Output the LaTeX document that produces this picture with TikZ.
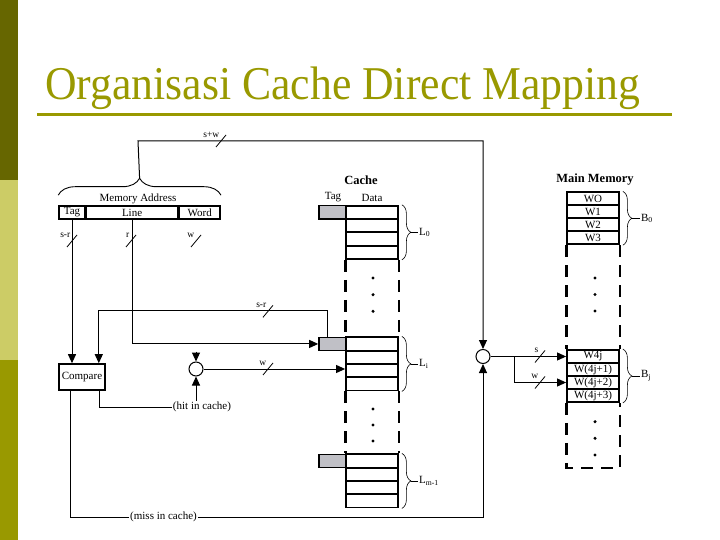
\documentclass[tikz,border=0pt]{standalone}
\usepackage{fontspec}
\setmainfont{Liberation Serif}
\usetikzlibrary{arrows.meta, positioning, calc, decorations.pathreplacing}

\definecolor{barDark}{RGB}{102,102,0}
\definecolor{barLight}{RGB}{204,204,102}
\definecolor{barMid}{RGB}{153,153,0}
\definecolor{tagGray}{RGB}{192,192,198}

\begin{document}
\begin{tikzpicture}[
    x=1pt, y=-1pt,
    >={Triangle[length=9pt,width=8pt]},
    font=\fontsize{11}{12}\selectfont,
    wire/.style = {line width=1pt},
    bus/.style = {line width=0.8pt},
    buslbl/.style = {font=\fontsize{9.5}{10}\selectfont, inner sep=0.5pt, anchor=south east},
    field/.style = {draw, line width=1.6pt, minimum height=13pt, inner sep=0pt},
    crow/.style = {draw, line width=1.8pt, minimum width=52pt, minimum height=13.3pt, inner sep=0pt},
    ctag/.style = {draw, line width=1.6pt, fill=tagGray, minimum width=27pt, minimum height=13.3pt, inner sep=0pt},
    mrow/.style = {draw, line width=1.8pt, minimum width=52pt, minimum height=13pt, inner sep=0pt, font=\fontsize{11}{12}\selectfont},
    dashside/.style = {line width=2.8pt, dash pattern=on 12pt off 8pt},
    gate/.style = {draw, circle, line width=1pt, minimum size=14pt, inner sep=0pt},
    cbrace/.style = {decorate, decoration={brace, amplitude=9pt}, line width=0.6pt},
    headlbl/.style = {font=\fontsize{12.5}{14}\selectfont\bfseries},
    flowlbl/.style = {inner sep=1pt},
]
\useasboundingbox (0,0) rectangle (720,540);

% side bar
\fill[barDark] (0,0) rectangle (18,180);
\fill[barLight] (0,180) rectangle (18,360);
\fill[barMid] (0,360) rectangle (18,540);

% title
\node[anchor=base west, inner sep=0pt, text=barMid, font=\fontsize{47}{50}\selectfont, xscale=0.93]
    (title) at (45,100) {Organisasi Cache Direct Mapping};
\draw[barMid, line width=3.5pt] (37,114.5) -- (672,114.5);

% memory address fields
\node[field, minimum width=26pt] (tagf) at (72,212.5) {Tag};
\node[field, minimum width=91pt, right=0pt of tagf] (linef) {Line};
\node[field, minimum width=41pt, right=0pt of linef] (wordf) {Word};
\node (addrlbl) at (138,199) {Memory Address};
\draw[cbrace, line width=0.9pt, decoration={amplitude=17pt}]
    ($(tagf.north west)+(0,-10)$) -- ($(wordf.north east)+(0,-10)$);
\coordinate (addrtop) at ($(tagf.north west)!0.5!(wordf.north east)+(0,-27)$);

% compare and the two selectors
\node[draw, line width=1.6pt, minimum width=46pt, minimum height=26pt, inner sep=0pt] (cmp) at (82,377) {Compare};
\node[gate] (wordsel) at (196,369) {};
\node[gate] (memsel) at (483,356.5) {};

% cache
\node[headlbl] (cachelbl) at (361,180) {Cache};
\node (ctaglbl) at (333,197.5) {Tag};
\node (cdatalbl) at (372,197.5) {Data};
\foreach \blk/\ytop in {0/205.7, i/337.3, m/454.3} {
    \foreach \k in {0,...,3}
        \node[crow] (c\blk\k) at (372,{\ytop+6.65+\k*13.3}) {};
    \node[ctag] (t\blk) at (332.5,{\ytop+6.65}) {};
}
\draw[dashside] (c03.south west) -- (ci0.north west);
\draw[dashside] (c03.south east) -- (ci0.north east);
\draw[dashside] (ci3.south west) -- (cm0.north west);
\draw[dashside] (ci3.south east) -- (cm0.north east);
\foreach \dy in {278,294.7,311.3,409,425,441}
    \fill (373,\dy) circle (1.7pt);

% cache line braces
\foreach \blk/\nm in {0/0, i/i, m/m-1} {
    \draw[cbrace] ($(c\blk0.north east)+(3,0)$) -- ($(c\blk3.south east)+(3,0)$);
    \coordinate (tip\blk) at ($(c\blk0.north east)!0.5!(c\blk3.south east)+(12,0)$);
    \node[anchor=west, inner sep=1pt] (lbl\blk) at ($(tip\blk)+(7,0)$) {L\textsubscript{\nm}};
    \draw[line width=0.6pt] (tip\blk) -- (lbl\blk.west);
}

% main memory
\node[headlbl] (memlbl) at (595,180) {Main Memory};
\foreach \k/\w in {0/WO,1/W1,2/W2,3/W3}
    \node[mrow] (m0\k) at (593,{198.8+\k*13}) {\w};
\foreach \k/\w in {0/W4j,1/W(4j+1),2/W(4j+2),3/W(4j+3)}
    \node[mrow] (mj\k) at (593,{356.5+\k*13}) {\w};
\draw[dashside] (m03.south west) -- (mj0.north west);
\draw[dashside] (m03.south east) -- (mj0.north east);
\coordinate (mbotl) at ($(mj3.south west)+(0,65)$);
\coordinate (mbotr) at ($(mj3.south east)+(0,65)$);
\draw[dashside] (mj3.south west) -- (mbotl) -- (mbotr) -- (mj3.south east);
\foreach \dy in {278,294.5,311,421.7,438.3,455}
    \fill (595,\dy) circle (1.7pt);

% block braces
\foreach \blk/\nm in {0/0, j/j} {
    \draw[cbrace] ($(m\blk0.north east)+(3,0)$) -- ($(m\blk3.south east)+(3,0)$);
    \coordinate (btip\blk) at ($(m\blk0.north east)!0.5!(m\blk3.south east)+(12,0)$);
    \node[anchor=west, inner sep=1pt] (blbl\blk) at ($(btip\blk)+(8,0)$) {B\textsubscript{\nm}};
    \draw[line width=0.6pt] (btip\blk) -- (blbl\blk.west);
}

% tag field to compare
\draw[wire,->] (tagf.south) -- (tagf.south |- cmp.north);

% line field picks the cache line
\draw[wire,->] (linef.south) |- (ti.west);

% word input of the selector
\coordinate (wstub) at ($(wordsel.north)+(0,-10)$);
\draw[wire,->] (wstub) -- (wordsel.north);

% stored tag back to compare
\coordinate (tagout) at ($(ti.north)+(-5.5,0)$);
\coordinate (tagbus) at ($(tagout)+(0,-26)$);
\coordinate (cmpin) at ($(cmp.north east)+(-7,0)$);
\draw[wire,->] (tagout) -- (tagbus) -| (cmpin);

% selected word into cache
\draw[wire,->] (wordsel.east) -- (wordsel.east -| ci2.west);

% hit
\coordinate (hitout) at ($(cmp.south east)+(-6,0)$);
\node[flowlbl] (hitlbl) at (202,407) {(hit in cache)};
\draw[wire] (hitout) |- (hitlbl.west);
\draw[wire,->] (hitlbl.north -| wordsel) -- (wordsel.south);

% miss
\coordinate (missout) at ($(cmp.south west)+(12,0)$);
\node[flowlbl] (misslbl) at (163.5,517) {(miss in cache)};
\draw[wire] (missout) |- (misslbl.west);
\draw[wire,->] (misslbl.east) -| (memsel.south);

% address to main memory
\coordinate (topbend) at (138,141);
\draw[wire,->] (addrtop) -- (topbend) -| (memsel.north);

% memory selector outputs
\coordinate (fork) at ($(memsel.east)+(24,0)$);
\draw[wire,->] (memsel.east) -- (memsel.east -| mj0.west);
\draw[wire,->] (fork) |- (mj2.west);

% bus widths
\foreach \cx/\cy/\txt [count=\n] in {221/141/s+w, 72/241/s-r, 131/241/r, 196/241/w,
        268/311.3/s-r, 268/369/w, 540/356.5/s, 540/382.5/w} {
    \draw[bus] ({\cx-5},{\cy+6}) -- ({\cx+5},{\cy-6});
    \node[buslbl] (bus\n) at ({\cx-1},{\cy-3}) {\txt};
}

\end{tikzpicture}
\end{document}
